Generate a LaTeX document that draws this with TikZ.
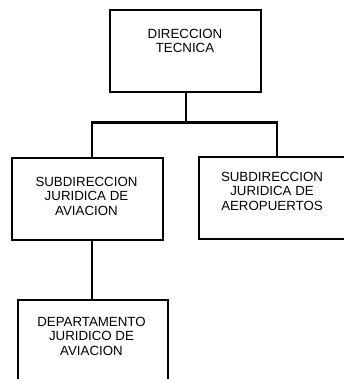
\documentclass[tikz,border=0pt]{standalone}
\usepackage{fontspec}
\setmainfont{Liberation Sans}
\begin{document}
\begin{tikzpicture}[x=1pt,y=1pt,
  box/.style={draw=black,line width=2.3pt,minimum width=151pt,minimum height=82pt,inner sep=0pt,anchor=north west},
  lbl/.style={align=center,font=\fontsize{13.3}{14.5}\selectfont,inner sep=0pt},
  conn/.style={draw=black,line width=2.3pt}]
\useasboundingbox (0,0) rectangle (344,-379);
\node[box] (top) at (109,-9) {};
\node[box] (lsub) at (11,-157) {};
\node[box,minimum width=156pt] (rsub) at (198,-156) {};
\node[box,minimum width=150pt] (dept) at (17,-299) {};
\node[lbl] (ttop) at (185,-41) {DIRECCION\\TECNICA};
\node[lbl] (tlsub) at (86.5,-196) {SUBDIRECCION\\JURIDICA DE\\AVIACION};
\node[lbl] (trsub) at (272,-191) {SUBDIRECCION\\JURIDICA DE\\AEROPUERTOS};
\node[lbl] (tdept) at (91.5,-336) {DEPARTAMENTO\\JURIDICO DE\\AVIACION};
\coordinate (jl) at (92,-122.5);
\coordinate (jr) at (277,-122.5);
\draw[conn] (top.south) -- (top.south |- jl);
\draw[conn] (jl |- lsub.north) -- (jl) -- (jr) -- (jr |- rsub.north);
\draw[conn] (lsub.south -| jl) -- (jl |- dept.north);
\end{tikzpicture}
\end{document}
